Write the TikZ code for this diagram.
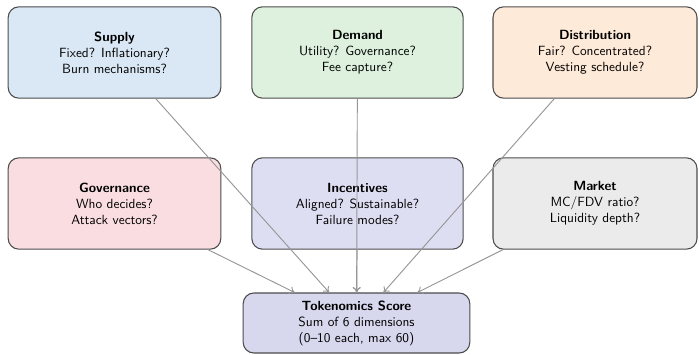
\documentclass[tikz,border=0pt]{standalone}
\usetikzlibrary{arrows.meta}
\renewcommand{\familydefault}{\sfdefault}
\definecolor{supplyc}{RGB}{218,232,246}
\definecolor{demandc}{RGB}{221,241,222}
\definecolor{distc}{RGB}{254,234,216}
\definecolor{govc}{RGB}{249,221,225}
\definecolor{incc}{RGB}{222,222,243}
\definecolor{marketc}{RGB}{235,235,235}
\definecolor{scorec}{RGB}{215,215,238}
\definecolor{edgec}{RGB}{150,150,150}
\tikzset{
  dimbox/.style={draw=black!70, line width=0.8pt, rounded corners=8pt, align=center,
    minimum height=68.5pt, inner sep=2pt, font=\sffamily},
  link/.style={draw=edgec, line width=0.7pt, -{To[length=4pt,width=6pt]}}
}
\begin{document}
\begin{tikzpicture}[x=0.75pt,y=-0.75pt]
\useasboundingbox (0,0) rectangle (699,354);
\node[dimbox, fill=supplyc, minimum width=159.5pt] (supply) at (114.5,52.5)
  {\textbf{Supply}\\Fixed? Inflationary?\\Burn mechanisms?};
\node[dimbox, fill=demandc, minimum width=158.5pt] (demand) at (357.5,52.5)
  {\textbf{Demand}\\Utility? Governance?\\Fee capture?};
\node[dimbox, fill=distc, minimum width=153pt] (dist) at (595,52.5)
  {\textbf{Distribution}\\Fair? Concentrated?\\Vesting schedule?};
\node[dimbox, fill=govc, minimum width=159.5pt] (gov) at (114.5,203.5)
  {\textbf{Governance}\\Who decides?\\Attack vectors?};
\node[dimbox, fill=incc, minimum width=158.5pt] (inc) at (357.5,203.5)
  {\textbf{Incentives}\\Aligned? Sustainable?\\Failure modes?};
\node[dimbox, fill=marketc, minimum width=153pt] (market) at (595,203.5)
  {\textbf{Market}\\MC/FDV ratio?\\Liquidity depth?};
\node[dimbox, fill=scorec, minimum width=170pt, minimum height=45pt] (score) at (356.5,323)
  {\textbf{Tokenomics Score}\\Sum of 6 dimensions\\(0--10 each, max 60)};
\foreach \s in {supply,demand,dist,gov,inc,market}
  \draw[link] (\s) -- (score);
\end{tikzpicture}
\end{document}
